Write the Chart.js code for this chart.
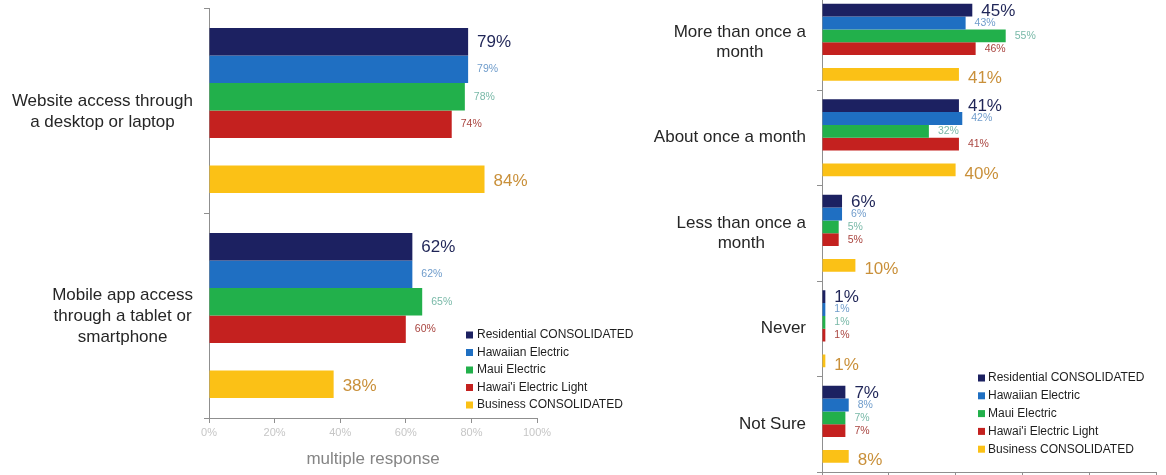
<!DOCTYPE html>
<html>
<head>
<meta charset="utf-8">
<script src="https://cdn.jsdelivr.net/npm/chart.js@4/dist/chart.umd.min.js"></script>
<style>
  html, body { margin: 0; padding: 0; background: #ffffff; overflow: hidden; }
  #page { position: relative; width: 1166px; height: 475px; overflow: hidden; }
  #accessChart { position: absolute; left: 0; top: 0; }
  #frequencyChart { position: absolute; left: 0; top: -6px; }
</style>
</head>
<body>
<div id="page">
  <canvas id="accessChart" width="1166" height="475"></canvas>
  <canvas id="frequencyChart" width="1166" height="481"></canvas>
</div>
<script>
// ---- data -------------------------------------------------------------
const seriesNames = [
  'Residential CONSOLIDATED',
  'Hawaiian Electric',
  'Maui Electric',
  "Hawai'i Electric Light",
  'Business CONSOLIDATED'
];

// How customers access their account (multiple response, %)
const accessCategories = [
  ['Website access through', 'a desktop or laptop'],
  ['Mobile app access', 'through a tablet or', 'smartphone']
];
const accessResidential = [79, 62];
const accessHawaiian    = [79, 62];
const accessMaui        = [78, 65];
const accessHawaii      = [74, 60];
const accessBusiness    = [84, 38];

// How often they access it (%)
const frequencyCategories = [
  ['More than once a', 'month'],
  ['About once a month'],
  ['Less than once a', 'month'],
  ['Never'],
  ['Not Sure']
];
const frequencyResidential = [45, 41, 6, 1, 7];
const frequencyHawaiian    = [43, 42, 6, 1, 8];
const frequencyMaui        = [55, 32, 5, 1, 7];
const frequencyHawaii      = [46, 41, 5, 1, 7];
const frequencyBusiness    = [41, 40, 10, 1, 8];

const percentTicks = [0, 20, 40, 60, 80, 100];

// ---- styles -----------------------------------------------------------
const FONT = "'Liberation Sans', Arial, Helvetica, sans-serif";
const seriesColors = ['#1c2161', '#1f6fc2', '#22b04b', '#c4211f', '#fbc116'];
const valueLabelStyles = [
  { size: 17, color: '#1f2557' },
  { size: 10.5, color: '#6f9ccb' },
  { size: 10.5, color: '#79b9a8' },
  { size: 10.5, color: '#a9443f' },
  { size: 17, color: '#c9903a' }
];
const AXIS_GRAY = '#8f8f8f';

// Four utility series, an empty slot, then the business series
function buildDatasets(seriesValues) {
  const sets = [];
  seriesValues.forEach((values, i) => {
    if (i === 4) {
      sets.push({ label: '', data: values.map(() => null), backgroundColor: 'rgba(0,0,0,0)', spacer: true });
    }
    sets.push({
      label: seriesNames[i],
      data: values,
      backgroundColor: seriesColors[i],
      borderWidth: 0,
      seriesIndex: i
    });
  });
  return sets;
}

// Category labels: block right-aligned next to the axis, lines centred within the block
const categoryLabelPlugin = {
  id: 'categoryLabels',
  afterDraw(chart, args, opts) {
    const ctx = chart.ctx;
    const yScale = chart.scales.y;
    ctx.save();
    ctx.font = opts.size + 'px ' + FONT;
    ctx.fillStyle = opts.color;
    ctx.textAlign = 'center';
    ctx.textBaseline = 'middle';
    chart.data.labels.forEach((label, i) => {
      const lines = Array.isArray(label) ? label : [label];
      const w = Math.max(...lines.map(l => ctx.measureText(l).width));
      const cx = yScale.right - opts.gap - w / 2;
      const cy = yScale.getPixelForValue(i) + opts.dy;
      lines.forEach((line, k) => {
        ctx.fillText(line, cx, cy + (k - (lines.length - 1) / 2) * opts.lineHeight);
      });
    });
    ctx.restore();
  }
};

// Value labels at the end of each bar
const valueLabelPlugin = {
  id: 'valueLabels',
  afterDatasetsDraw(chart, args, opts) {
    const ctx = chart.ctx;
    ctx.save();
    ctx.textAlign = 'left';
    ctx.textBaseline = 'middle';
    chart.data.datasets.forEach((ds, di) => {
      if (ds.spacer) return;
      const style = valueLabelStyles[ds.seriesIndex];
      const dy = (opts.dy && opts.dy[ds.seriesIndex]) || 0;
      ctx.font = style.size + 'px ' + FONT;
      ctx.fillStyle = style.color;
      chart.getDatasetMeta(di).data.forEach((bar, i) => {
        const v = ds.data[i];
        if (v === null || v === undefined) return;
        ctx.fillText(v + '%', bar.x + opts.offset, bar.y + dy);
      });
    });
    ctx.restore();
  }
};

// Compact legend placed inside the plot
const boxLegendPlugin = {
  id: 'boxLegend',
  afterDraw(chart, args, opts) {
    const ctx = chart.ctx;
    ctx.save();
    ctx.font = opts.size + 'px ' + FONT;
    ctx.textAlign = 'left';
    ctx.textBaseline = 'middle';
    let row = 0;
    chart.data.datasets.forEach(ds => {
      if (ds.spacer) return;
      const y = opts.y + row * opts.rowHeight;
      ctx.fillStyle = ds.backgroundColor;
      ctx.fillRect(opts.x, y - opts.box / 2, opts.box, opts.box);
      ctx.fillStyle = opts.color;
      ctx.fillText(ds.label, opts.x + opts.box + opts.gap, y);
      row++;
    });
    ctx.restore();
  }
};

function percentAxis(extra) {
  return Object.assign({
    type: 'linear',
    min: 0,
    max: 100,
    afterBuildTicks(scale) { scale.ticks = percentTicks.map(v => ({ value: v })); },
    grid: { display: true, drawOnChartArea: false, drawTicks: true, tickLength: 5, color: AXIS_GRAY },
    border: { display: true, color: AXIS_GRAY, width: 1 }
  }, extra);
}

function categoryAxis(width) {
  return {
    type: 'category',
    offset: true,
    ticks: { display: false },
    grid: { display: true, offset: true, drawOnChartArea: false, drawTicks: true, tickLength: 5, color: AXIS_GRAY },
    border: { display: true, color: AXIS_GRAY, width: 1 },
    afterFit(scale) { scale.width = width; }
  };
}

Chart.defaults.font.family = FONT;

// ---- left chart: access channel ---------------------------------------
new Chart(document.getElementById('accessChart'), {
  type: 'bar',
  data: {
    labels: accessCategories,
    datasets: buildDatasets([accessResidential, accessHawaiian, accessMaui, accessHawaii, accessBusiness])
  },
  options: {
    indexAxis: 'y',
    responsive: false,
    animation: false,
    events: [],
    categoryPercentage: 0.805,
    barPercentage: 1.0,
    layout: { padding: { top: 8, right: 629, bottom: 0, left: 0 } },
    scales: {
      x: percentAxis({
        ticks: {
          padding: 3,
          color: '#c6c6c6',
          font: { size: 11 },
          callback: v => v + '%'
        },
        title: {
          display: true,
          text: 'multiple response',
          color: '#858585',
          font: { size: 17 },
          padding: { top: 4, bottom: 5 }
        },
        afterFit(scale) { scale.height = 57; }
      }),
      y: categoryAxis(209)
    },
    plugins: {
      legend: { display: false },
      tooltip: { enabled: false },
      categoryLabels: { size: 17, color: '#262626', gap: 16, lineHeight: 21, dy: 1 },
      valueLabels: { offset: 9, dy: [1, 0, 0, 0, 2] },
      boxLegend: { x: 466, y: 335, rowHeight: 17.5, box: 7, gap: 4, size: 12, color: '#1e1e1e' }
    }
  },
  plugins: [categoryLabelPlugin, valueLabelPlugin, boxLegendPlugin]
});

// ---- right chart: access frequency (canvas sits 6px above the page) ----
new Chart(document.getElementById('frequencyChart'), {
  type: 'bar',
  data: {
    labels: frequencyCategories,
    datasets: buildDatasets([frequencyResidential, frequencyHawaiian, frequencyMaui, frequencyHawaii, frequencyBusiness])
  },
  options: {
    indexAxis: 'y',
    responsive: false,
    animation: false,
    events: [],
    categoryPercentage: 0.806,
    barPercentage: 1.0,
    layout: { padding: { top: 0.5, right: 10, bottom: 0, left: 0 } },
    scales: {
      x: percentAxis({
        ticks: { display: false },
        afterFit(scale) { scale.height = 3; }
      }),
      y: categoryAxis(822)
    },
    plugins: {
      legend: { display: false },
      tooltip: { enabled: false },
      categoryLabels: { size: 17, color: '#262626', gap: 16, lineHeight: 20, dy: 0 },
      valueLabels: { offset: 9, dy: [1, 0, 0, 0, 4] },
      boxLegend: { x: 978, y: 384, rowHeight: 17.8, box: 7, gap: 3, size: 12, color: '#1e1e1e' }
    }
  },
  plugins: [categoryLabelPlugin, valueLabelPlugin, boxLegendPlugin]
});
</script>
</body>
</html>
